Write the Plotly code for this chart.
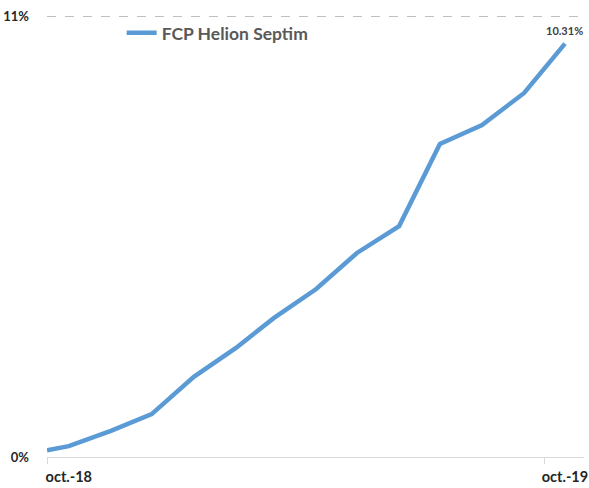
import plotly.graph_objects as go

dates = ["2018-09-15", "2018-10-01", "2018-11-01", "2018-12-01", "2019-01-01",
         "2019-02-01", "2019-03-01", "2019-04-01", "2019-05-01", "2019-06-01",
         "2019-07-01", "2019-08-01", "2019-09-01", "2019-10-01"]
perf = [0.17, 0.27, 0.65, 1.07, 2.0, 2.72, 3.47, 4.19, 5.09, 5.76, 7.81, 8.28, 9.08, 10.31]
series_name = "FCP Helion Septim"
x_tick_vals = ["2018-10-01", "2019-10-01"]
x_tick_text = ["oct.-18", "oct.-19"]
y_tick_vals = [0, 11]
y_tick_text = ["0%", "11%"]

FONT = "Lato"
BLUE = "#5B9BD5"

fig = go.Figure()
fig.add_trace(go.Scatter(
    x=dates, y=perf, mode="lines", name=series_name,
    line=dict(color=BLUE, width=4.5), hoverinfo="skip",
))
fig.add_annotation(
    x=dates[-1], y=perf[-1], text=f"{perf[-1]:.2f}%", showarrow=False,
    yshift=13, font=dict(family=FONT, size=11, color="#404040", weight="bold"),
)

fig.update_layout(
    width=589, height=488,
    margin=dict(l=47, r=5, t=12, b=31, autoexpand=False),
    paper_bgcolor="white", plot_bgcolor="white",
    showlegend=True,
    legend=dict(x=0.139, y=0.953, xanchor="left", yanchor="middle",
                bgcolor="rgba(0,0,0,0)",
                font=dict(family=FONT, size=17.5, color="#595959", weight="bold"),
                itemwidth=30),
    font=dict(family=FONT),
)
fig.update_xaxes(
    range=["2018-09-15", "2019-10-15"], automargin=False,
    tickvals=x_tick_vals, ticktext=x_tick_text, ticks="",
    tickfont=dict(family=FONT, size=14.5, color="#262626", weight="bold"),
    showgrid=False, showline=True, linecolor="#D9D9D9", linewidth=1,
    zeroline=False, ticklabelstandoff=7, ticklabeloverflow="allow",
    minor=dict(tickvals=["2018-09-15", "2019-09-16"], ticks="outside",
               ticklen=6, tickcolor="#D9D9D9", tickwidth=1, showgrid=False),
)
fig.update_yaxes(
    range=[0, 11.1], automargin=False,
    tickvals=y_tick_vals, ticktext=y_tick_text,
    tickfont=dict(family=FONT, size=13, color="#262626", weight="bold"),
    showgrid=True, gridcolor="#BFBFBF", griddash="dash", gridwidth=1,
    zeroline=False, showline=False, ticks="", ticklabelstandoff=17,
    ticklabeloverflow="allow",
)

fig.write_html("out.html", config={"displayModeBar": False},
               post_script="document.body.style.margin='0';")
